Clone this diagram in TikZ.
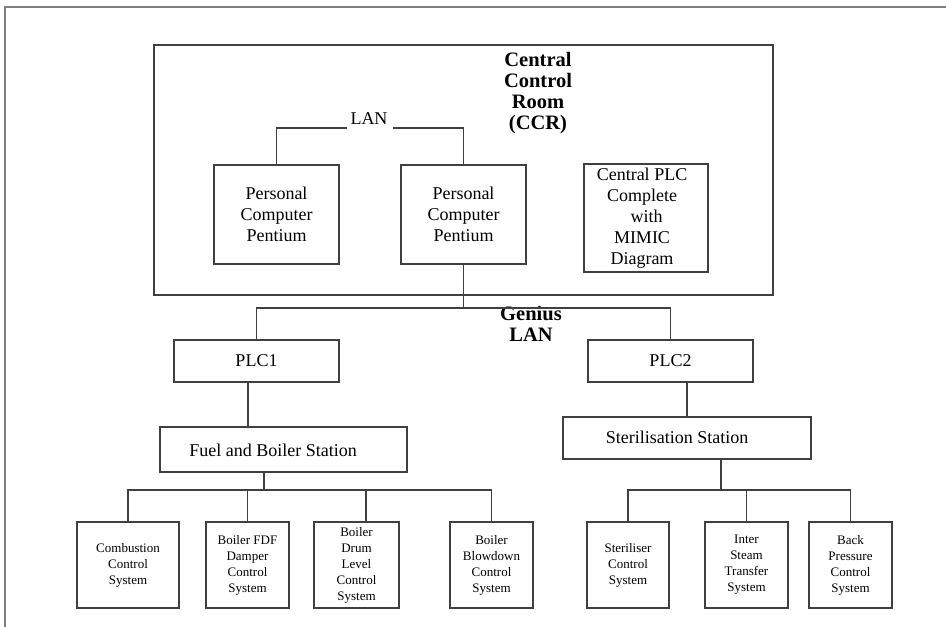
\documentclass[tikz,border=0pt]{standalone}
\usepackage{fontspec}
\setmainfont{Liberation Serif}
\begin{document}
\begin{tikzpicture}[x=1pt,y=-1pt,
  box/.style={draw=black!75, line width=1.4pt, inner sep=0pt, align=center, font=\fontsize{18}{21}\selectfont},
  small/.style={box, font=\fontsize{13}{16}\selectfont, minimum height=86pt},
  wire/.style={draw=black!75, line width=1.4pt},
  txt/.style={align=center, inner sep=0pt, font=\fontsize{18}{21}\selectfont},
  ttl/.style={align=center, inner sep=0pt, font=\fontsize{20.5}{21}\bfseries\selectfont}
]
\useasboundingbox (0,0) rectangle (946,627);
% outer frame (cropped)
\coordinate (fA) at (5,640);
\coordinate (fB) at (5,7);
\coordinate (fC) at (960,7);
\draw[black!50, line width=1.8pt] (fA) -- (fB) -- (fC);

% Central control room
\node[box, minimum width=619pt, minimum height=250pt] (ccr) at (463.5,170) {};
\node[ttl] (ccrtitle) at (538,93) {Central\\Control\\Room\\(CCR)};

\node[box, minimum width=125pt, minimum height=99pt] (pc1) at (276.5,214.5) {Personal\\Computer\\Pentium};
\node[box, minimum width=125pt, minimum height=99pt] (pc2) at (463.5,214.5) {Personal\\Computer\\Pentium};
\node[box, minimum width=124pt, minimum height=108pt] (cplc) at (646,218) {};
\node[txt] (cplctxt) at (642,218) {Central PLC\\Complete\\\ \ with\\MIMIC\\Diagram};

\node[txt] (lan) at (369,119) {LAN};
\coordinate (lanL) at (347,128);
\coordinate (lanR) at (393,128);
\draw[wire] (pc1.north) |- (lanL);
\draw[wire] (pc2.north) |- (lanR);

% Genius LAN
\coordinate (busG) at (463.5,308);
\node[ttl] (genius) at (531,323.5) {Genius\\LAN};
\node[box, minimum width=165pt, minimum height=42pt] (plc1) at (256.5,361) {PLC1};
\node[box, minimum width=165pt, minimum height=42pt] (plc2) at (670.5,361) {PLC2};
\draw[wire] (pc2.south) -- (busG);
\draw[wire] (plc1.north) |- (busG) -| (plc2.north);

% stations
\node[box, minimum width=247pt, minimum height=45pt] (fuel) at (283.5,449.5) {};
\node[txt] (fueltxt) at (273,450) {Fuel and Boiler Station};
\node[box, minimum width=248pt, minimum height=42pt] (steril) at (687,438) {};
\node[txt] (steriltxt) at (677,437) {Sterilisation Station};
\draw[wire] ([xshift=-8.5pt]plc1.south) -- ([xshift=-8.5pt]plc1.south |- fuel.north);
\draw[wire] (steril.north) -- (steril.north |- plc2.south);

% fuel subsystems
\node[small, minimum width=102pt] (comb) at (128,565) {Combustion\\Control\\System};
\node[small, minimum width=83pt] (fdf) at (247.5,565) {Boiler FDF\\Damper\\Control\\System};
\node[small, minimum width=85pt] (drum) at (356.5,565) {Boiler\\Drum\\Level\\Control\\System};
\node[small, minimum width=83pt] (blow) at (491.5,565) {Boiler\\Blowdown\\Control\\System};
\coordinate (busF) at (264,490);
\draw[wire] ([xshift=-19.5pt]fuel.south) -- (busF);
\draw[wire] (comb.north) |- (busF) -| (blow.north);
\draw[wire] (fdf.north) -- (fdf.north |- busF);
\draw[wire] ([xshift=9.5pt]drum.north) -- ([xshift=9.5pt]drum.north |- busF);

% sterilisation subsystems
\node[small, minimum width=82pt] (ster) at (628,565) {Steriliser\\Control\\System};
\node[small, minimum width=83pt] (inter) at (746.5,565) {Inter\\Steam\\Transfer\\System};
\node[small, minimum width=83pt] (back) at (850.5,565) {Back\\Pressure\\Control\\System};
\coordinate (busS) at (721,490);
\draw[wire] ([xshift=34pt]steril.south) -- (busS);
\draw[wire] (ster.north) |- (busS) -| (back.north);
\draw[wire] (inter.north) -- (inter.north |- busS);
\end{tikzpicture}
\end{document}
